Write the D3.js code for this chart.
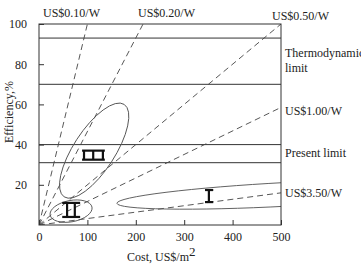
<!DOCTYPE html>
<meta charset="utf-8">
<style>
    body { margin: 0; background: #fff; }
    svg text { font-family: "Liberation Serif", "DejaVu Serif", "Noto Serif", serif; font-size: 12px; fill: #222; }
    .box { fill: none; stroke: #333; stroke-width: 1; }
    .limit { stroke: #333; stroke-width: 1; }
    .rate { stroke: #444; stroke-width: 0.9; stroke-dasharray: 6 4; fill: none; }
    .zone { fill: none; stroke: #555; stroke-width: 0.9; }
    .range { stroke: #111; stroke-width: 2.2; }
    .tick line { stroke: #333; }
</style>
<script src="https://d3js.org/d3.v7.min.js"></script>
<body>
<script>
    var width = 361;
    var height = 264;
    var FONT = "'Liberation Serif', 'DejaVu Serif', serif";

    // axis ticks
    var xTicks = [0, 100, 200, 300, 400, 500];
    var yTicks = [20, 40, 60, 80, 100];

    // horizontal limit lines (efficiency, %)
    var thermoLimits = [93, 70];
    var presentLimits = [40, 31];

    // cost-per-watt lines: end point (cost, efficiency)
    var rateLabels = ["US$0.10/W", "US$0.20/W", "US$0.50/W", "US$1.00/W", "US$3.50/W"];
    var rateEndCost = [100, 215, 500, 500, 500];
    var rateEndEff = [100, 100, 100, 58.5, 16];

    // generation zones: ellipses given by the two ends of the long axis
    var zoneTipA = [[52, 14], [23, 4.9], [161, 10.8]];
    var zoneTipB = [[176, 60], [109.5, 8.9], [860, 19.7]];
    var zoneRatio = [0.375, 0.5, 0.07];

    // range markers (I, II, III)
    var rangeCostMin = [89, 48, 343];
    var rangeCostMax = [136, 85, 360];
    var rangeEffMin = [32.5, 4, 11.4];
    var rangeEffMax = [37, 11, 17.4];
    var rangePosts = [[93, 112, 132], [58, 74], [351]];

    var x = d3.scaleLinear().domain([0, 500]).range([39, 281]);
    var y = d3.scaleLinear().domain([0, 100]).range([225, 24]);

    var svg = d3.select("body").append("svg")
        .attr("width", width)
        .attr("height", height)
        .attr("font-family", FONT);

    svg.append("defs").append("clipPath").attr("id", "plot")
        .append("rect")
        .attr("x", x(0)).attr("y", y(100))
        .attr("width", x(500) - x(0)).attr("height", y(0) - y(100));

    var plot = svg.append("g").attr("clip-path", "url(#plot)");

    // limit lines
    plot.selectAll("line.limit")
        .data(thermoLimits.concat(presentLimits))
        .enter().append("line")
        .attr("class", "limit")
        .attr("x1", x(0)).attr("x2", x(500))
        .attr("y1", function(d) { return y(d); })
        .attr("y2", function(d) { return y(d); });

    // cost per watt lines
    plot.selectAll("line.rate")
        .data(rateLabels)
        .enter().append("line")
        .attr("class", "rate")
        .attr("x1", x(0)).attr("y1", y(0))
        .attr("x2", function(d, i) { return x(rateEndCost[i]); })
        .attr("y2", function(d, i) { return y(rateEndEff[i]); });

    // zones
    plot.selectAll("ellipse")
        .data(zoneTipA)
        .enter().append("ellipse")
        .attr("class", "zone")
        .each(function(a, i) {
            var b = zoneTipB[i];
            var x1 = x(a[0]), y1 = y(a[1]), x2 = x(b[0]), y2 = y(b[1]);
            var cx = (x1 + x2) / 2, cy = (y1 + y2) / 2;
            var rx = Math.hypot(x2 - x1, y2 - y1) / 2;
            var ang = Math.atan2(y2 - y1, x2 - x1) * 180 / Math.PI;
            d3.select(this)
                .attr("cx", cx).attr("cy", cy)
                .attr("rx", rx).attr("ry", rx * zoneRatio[i])
                .attr("transform", "rotate(" + ang + "," + cx + "," + cy + ")");
        });

    // range markers
    var marks = svg.append("g");
    rangeCostMin.forEach(function(c0, i) {
        var g = marks.append("g");
        [rangeEffMin[i], rangeEffMax[i]].forEach(function(e) {
            g.append("line").attr("class", "range")
                .attr("x1", x(c0)).attr("x2", x(rangeCostMax[i]))
                .attr("y1", y(e)).attr("y2", y(e));
        });
        rangePosts[i].forEach(function(c) {
            g.append("line").attr("class", "range")
                .attr("x1", x(c)).attr("x2", x(c))
                .attr("y1", y(rangeEffMin[i])).attr("y2", y(rangeEffMax[i]));
        });
    });

    // axes
    var xAxis = svg.append("g")
        .attr("transform", "translate(0," + y(0) + ")")
        .call(d3.axisBottom(x).tickValues(xTicks).tickSize(-5).tickPadding(7.5));
    var yAxis = svg.append("g")
        .attr("transform", "translate(" + x(0) + ",0)")
        .call(d3.axisLeft(y).tickValues(yTicks).tickSize(-5).tickPadding(12));
    [xAxis, yAxis].forEach(function(ax) {
        ax.select(".domain").remove();
        ax.attr("font-family", FONT).attr("font-size", 12);
        ax.selectAll("text").attr("fill", "#222");
    });

    svg.append("rect").attr("class", "box")
        .attr("x", x(0)).attr("y", y(100))
        .attr("width", x(500) - x(0)).attr("height", y(0) - y(100));

    // rate labels
    var labelPos = [[43, 16.5], [138, 16.5], [272, 20], [285, 115], [285, 197]];
    svg.selectAll("text.rate-label")
        .data(rateLabels)
        .enter().append("text")
        .attr("class", "rate-label")
        .attr("x", function(d, i) { return labelPos[i][0]; })
        .attr("y", function(d, i) { return labelPos[i][1]; })
        .text(function(d) { return d; });

    svg.append("text").attr("x", 285).attr("y", 57).text("Thermodynamic");
    svg.append("text").attr("x", 285).attr("y", 72).text("limit");
    svg.append("text").attr("x", 285).attr("y", 157).text("Present limit");

    // axis titles
    var xt = svg.append("text").attr("x", 127).attr("y", 261).text("Cost, US$/m");
    xt.append("tspan").attr("dy", -5).style("font-size", "13px").text("2");

    svg.append("text")
        .attr("transform", "translate(13,112) rotate(-90)")
        .attr("text-anchor", "middle")
        .text("Efficiency,%");
</script>
